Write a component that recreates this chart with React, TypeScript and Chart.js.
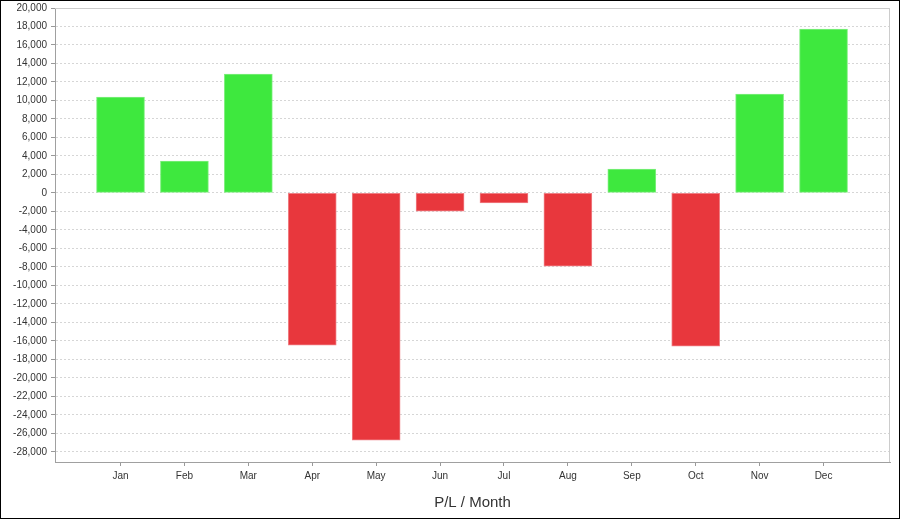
import React, { useEffect, useRef } from "react";
import { Chart, registerables } from "chart.js";

Chart.register(...registerables);

const months = ["Jan", "Feb", "Mar", "Apr", "May", "Jun", "Jul", "Aug", "Sep", "Oct", "Nov", "Dec"];
const pl = [10370, 3440, 12860, -16470, -26750, -1970, -1070, -7920, 2580, -16580, 10690, 17730];
const yMin = -29100;
const yMax = 20000;
const yTicks = [
  20000, 18000, 16000, 14000, 12000, 10000, 8000, 6000, 4000, 2000, 0, -2000, -4000, -6000, -8000,
  -10000, -12000, -14000, -16000, -18000, -20000, -22000, -24000, -26000, -28000,
];
const xTitle = "P/L / Month";

const GREEN = "#3ee83e";
const GREEN_EDGE = "#80ef80";
const RED = "#e8373d";
const RED_EDGE = "#f08086";
const FONT = "'Liberation Sans', Arial, sans-serif";

const plotFrame = {
  id: "plotFrame",
  afterDraw(chart: any) {
    const { ctx, chartArea } = chart;
    ctx.save();
    ctx.strokeStyle = "#cccccc";
    ctx.lineWidth = 1;
    ctx.beginPath();
    ctx.moveTo(chartArea.left, chartArea.top + 0.5);
    ctx.lineTo(chartArea.right - 0.5, chartArea.top + 0.5);
    ctx.lineTo(chartArea.right - 0.5, chartArea.bottom);
    ctx.stroke();
    ctx.restore();
  },
};

export default function App() {
  const ref = useRef<HTMLCanvasElement | null>(null);
  useEffect(() => {
    if (!ref.current) return;
    const data = pl.map((v, i) => ({ x: i, y: v }));
    const chart = new Chart(ref.current, {
      type: "bar",
      data: {
        datasets: [
          {
            data: data as any,
            backgroundColor: pl.map((v) => (v >= 0 ? GREEN : RED)),
            borderColor: pl.map((v) => (v >= 0 ? GREEN_EDGE : RED_EDGE)),
            borderWidth: 1,
            borderSkipped: false,
            barThickness: 48,
          },
        ],
      },
      options: {
        responsive: false,
        animation: false,
        layout: { padding: { top: 7, right: 9, left: 0, bottom: 0 } },
        plugins: { legend: { display: false }, tooltip: { enabled: false } },
        scales: {
          x: {
            type: "linear",
            offset: false,
            min: -1.025,
            max: 12.04,
            afterBuildTicks: (s: any) => {
              s.ticks = months.map((_, i) => ({ value: i }));
            },
            afterFit: (s: any) => {
              s.height = 56;
              s.paddingLeft = 0;
              s.paddingRight = 0;
            },
            ticks: {
              autoSkip: false,
              maxRotation: 0,
              padding: 4,
              color: "#333",
              font: { family: FONT, size: 10 },
              callback: (v: any) => months[v] ?? "",
            },
            grid: { offset: false, drawOnChartArea: false, drawTicks: true, tickLength: 4, tickColor: "#999" },
            border: { display: true, color: "#a0a0a0", width: 1 },
            title: {
              display: true,
              text: xTitle,
              color: "#333",
              font: { family: FONT, size: 15 },
              padding: { top: 0, bottom: 6 },
            },
          },
          y: {
            min: yMin,
            max: yMax,
            afterBuildTicks: (s: any) => {
              s.ticks = yTicks.map((v) => ({ value: v }));
            },
            afterFit: (s: any) => {
              s.width = 54;
              s.paddingTop = 0;
              s.paddingBottom = 0;
            },
            ticks: {
              padding: 4,
              color: "#333",
              font: { family: FONT, size: 10 },
              callback: (v: any) => Number(v).toLocaleString("en-US"),
            },
            grid: { color: "#d6d6d6", tickLength: 4, tickColor: "#999" },
            border: { display: true, color: "#a0a0a0", width: 1, dash: [2, 2] },
          },
        },
      },
      plugins: [plotFrame],
    });
    return () => chart.destroy();
  }, []);
  return (
    <div
      style={{
        position: "absolute",
        left: 0,
        top: 0,
        width: 900,
        height: 519,
        boxSizing: "border-box",
        border: "1px solid #000",
        background: "#fff",
      }}
    >
      <canvas ref={ref} width={898} height={517} style={{ display: "block" }} />
    </div>
  );
}
